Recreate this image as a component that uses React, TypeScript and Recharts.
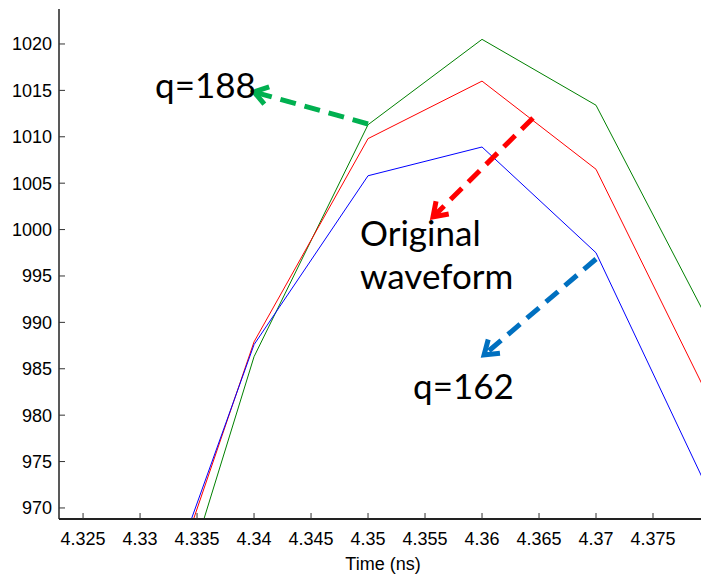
import React from 'react';
import { LineChart, Line, XAxis, YAxis, ReferenceLine, ReferenceDot, Label } from 'recharts';

const times = [4.33, 4.34, 4.35, 4.36, 4.37, 4.38];
const blueQ162 = [953.4, 987.6, 1005.8, 1008.9, 997.5, 971.5];
const redOriginal = [951.9, 987.9, 1009.8, 1016.0, 1006.5, 981.6];
const greenQ188 = [946.5, 986.3, 1011.3, 1020.5, 1013.4, 989.8];

const xTicks = [4.325, 4.33, 4.335, 4.34, 4.345, 4.35, 4.355, 4.36, 4.365, 4.37, 4.375];
const yTicks = [970, 975, 980, 985, 990, 995, 1000, 1005, 1010, 1015, 1020];
const xDomain = [4.32289, 4.37921];
const yDomain = [968.81, 1023.77];

// annotation arrows: [tail, tip] in data coordinates
const arrows = [
  { from: { x: 4.35, y: 1011.38 }, to: { x: 4.34, y: 1014.83 }, color: '#00b050' },
  { from: { x: 4.36447, y: 1012.03 }, to: { x: 4.3557, y: 1001.36 }, color: '#ff0000' },
  { from: { x: 4.37, y: 996.83 }, to: { x: 4.36018, y: 986.49 }, color: '#0070c0' },
];
const notes = [
  { x: 4.33132, y: 1014.18, text: 'q=188' },
  { x: 4.3493, y: 998.23, text: 'Original' },
  { x: 4.3493, y: 993.6, text: 'waveform' },
  { x: 4.35395, y: 981.75, text: 'q=162' },
];

const data = times.map((t, i) => ({ t, blue: blueQ162[i], red: redOriginal[i], green: greenQ188[i] }));

const FONT = '"Liberation Sans", Arial, sans-serif';
const ANNOT_FONT = 'Lato, "Open Sans", sans-serif';
const TICK = 6;

const makeArrow = (color: string) => (p: any) => {
  const { x1, y1, x2, y2 } = p;
  const ang = Math.atan2(y2 - y1, x2 - x1);
  const len = 16;
  const spread = 0.6;
  const ax1 = x2 - len * Math.cos(ang - spread);
  const ay1 = y2 - len * Math.sin(ang - spread);
  const ax2 = x2 - len * Math.cos(ang + spread);
  const ay2 = y2 - len * Math.sin(ang + spread);
  const sx = x2 - 4 * Math.cos(ang);
  const sy = y2 - 4 * Math.sin(ang);
  return (
    <g>
      <line x1={x1} y1={y1} x2={sx} y2={sy} stroke={color} strokeWidth={5} strokeDasharray="16 9" />
      <polyline points={`${ax1},${ay1} ${x2},${y2} ${ax2},${ay2}`} fill="none" stroke={color} strokeWidth={5} strokeLinejoin="miter" />
    </g>
  );
};

const makeText = (text: string) => (p: any) => (
  <text x={p.cx} y={p.cy} fill="#000" fontFamily={ANNOT_FONT} fontSize={35} textAnchor="start">
    {text}
  </text>
);

const BottomTick = (p: any) => (
  <g>
    <line x1={p.x} y1={p.y} x2={p.x} y2={p.y - TICK} stroke="#333" strokeWidth={1} />
    <text x={p.x} y={p.y + 26} textAnchor="middle" fontFamily={FONT} fontSize={18} fill="#000">
      {p.payload.value}
    </text>
  </g>
);
const TopTick = (p: any) => (
  <line x1={p.x} y1={p.y} x2={p.x} y2={p.y + TICK} stroke="#333" strokeWidth={1} />
);
const LeftTick = (p: any) => (
  <g>
    <line x1={p.x} y1={p.y} x2={p.x + TICK} y2={p.y} stroke="#333" strokeWidth={1} />
    <text x={p.x - 7} y={p.y + 6.5} textAnchor="end" fontFamily={FONT} fontSize={18} fill="#000">
      {p.payload.value}
    </text>
  </g>
);
const RightTick = (p: any) => (
  <line x1={p.x} y1={p.y} x2={p.x - TICK} y2={p.y} stroke="#777" strokeWidth={1} />
);

export default function App() {
  return (
    <div style={{ position: 'fixed', left: 0, top: 0, width: 701, height: 579, overflow: 'hidden', background: '#fff' }}>
      <LineChart width={701} height={579} data={data} margin={{ top: 9, right: 0, bottom: 0, left: 0 }}>
        <XAxis
          xAxisId="bottom"
          dataKey="t"
          type="number"
          domain={xDomain}
          ticks={xTicks}
          interval={0}
          allowDataOverflow
          height={60}
          tickSize={0}
          tickMargin={0}
          tickLine={false}
          stroke="#222"
          strokeWidth={2}
          tick={BottomTick}
        >
          <Label
            content={(props: any) => {
              const vb = props.viewBox;
              return (
                <text x={vb.x + vb.width / 2 + 3} y={vb.y + 51} textAnchor="middle" fontFamily={FONT} fontSize={18} fill="#000">
                  Time (ns)
                </text>
              );
            }}
          />
        </XAxis>
        <XAxis
          xAxisId="top"
          orientation="top"
          dataKey="t"
          type="number"
          domain={xDomain}
          ticks={xTicks}
          interval={0}
          allowDataOverflow
          height={0}
          tickSize={0}
          tickMargin={0}
          tickLine={false}
          tick={TopTick}
          stroke="#222"
        />
        <YAxis
          yAxisId="left"
          type="number"
          domain={yDomain}
          ticks={yTicks}
          interval={0}
          allowDataOverflow
          width={59}
          tickSize={0}
          tickMargin={0}
          tickLine={false}
          stroke="#222"
          strokeWidth={1.5}
          tick={LeftTick}
        />
        <YAxis
          yAxisId="right"
          orientation="right"
          type="number"
          domain={yDomain}
          ticks={yTicks}
          interval={0}
          allowDataOverflow
          width={0}
          tickSize={0}
          tickMargin={0}
          tickLine={false}
          axisLine={false}
          tick={RightTick}
        />
        <Line xAxisId="bottom" yAxisId="left" type="linear" dataKey="green" stroke="#008000" strokeWidth={1} dot={false} activeDot={false} isAnimationActive={false} />
        <Line xAxisId="bottom" yAxisId="left" type="linear" dataKey="red" stroke="#ff0000" strokeWidth={1} dot={false} activeDot={false} isAnimationActive={false} />
        <Line xAxisId="bottom" yAxisId="left" type="linear" dataKey="blue" stroke="#0000ff" strokeWidth={1} dot={false} activeDot={false} isAnimationActive={false} />
        {arrows.map((a, i) => (
          <ReferenceLine
            key={'a' + i}
            xAxisId="bottom"
            yAxisId="left"
            segment={[a.from, a.to]}
            stroke={a.color}
            shape={makeArrow(a.color)}
          />
        ))}
        {notes.map((n, i) => (
          <ReferenceDot key={'n' + i} xAxisId="bottom" yAxisId="left" x={n.x} y={n.y} r={1} shape={makeText(n.text)} />
        ))}
      </LineChart>
    </div>
  );
}
